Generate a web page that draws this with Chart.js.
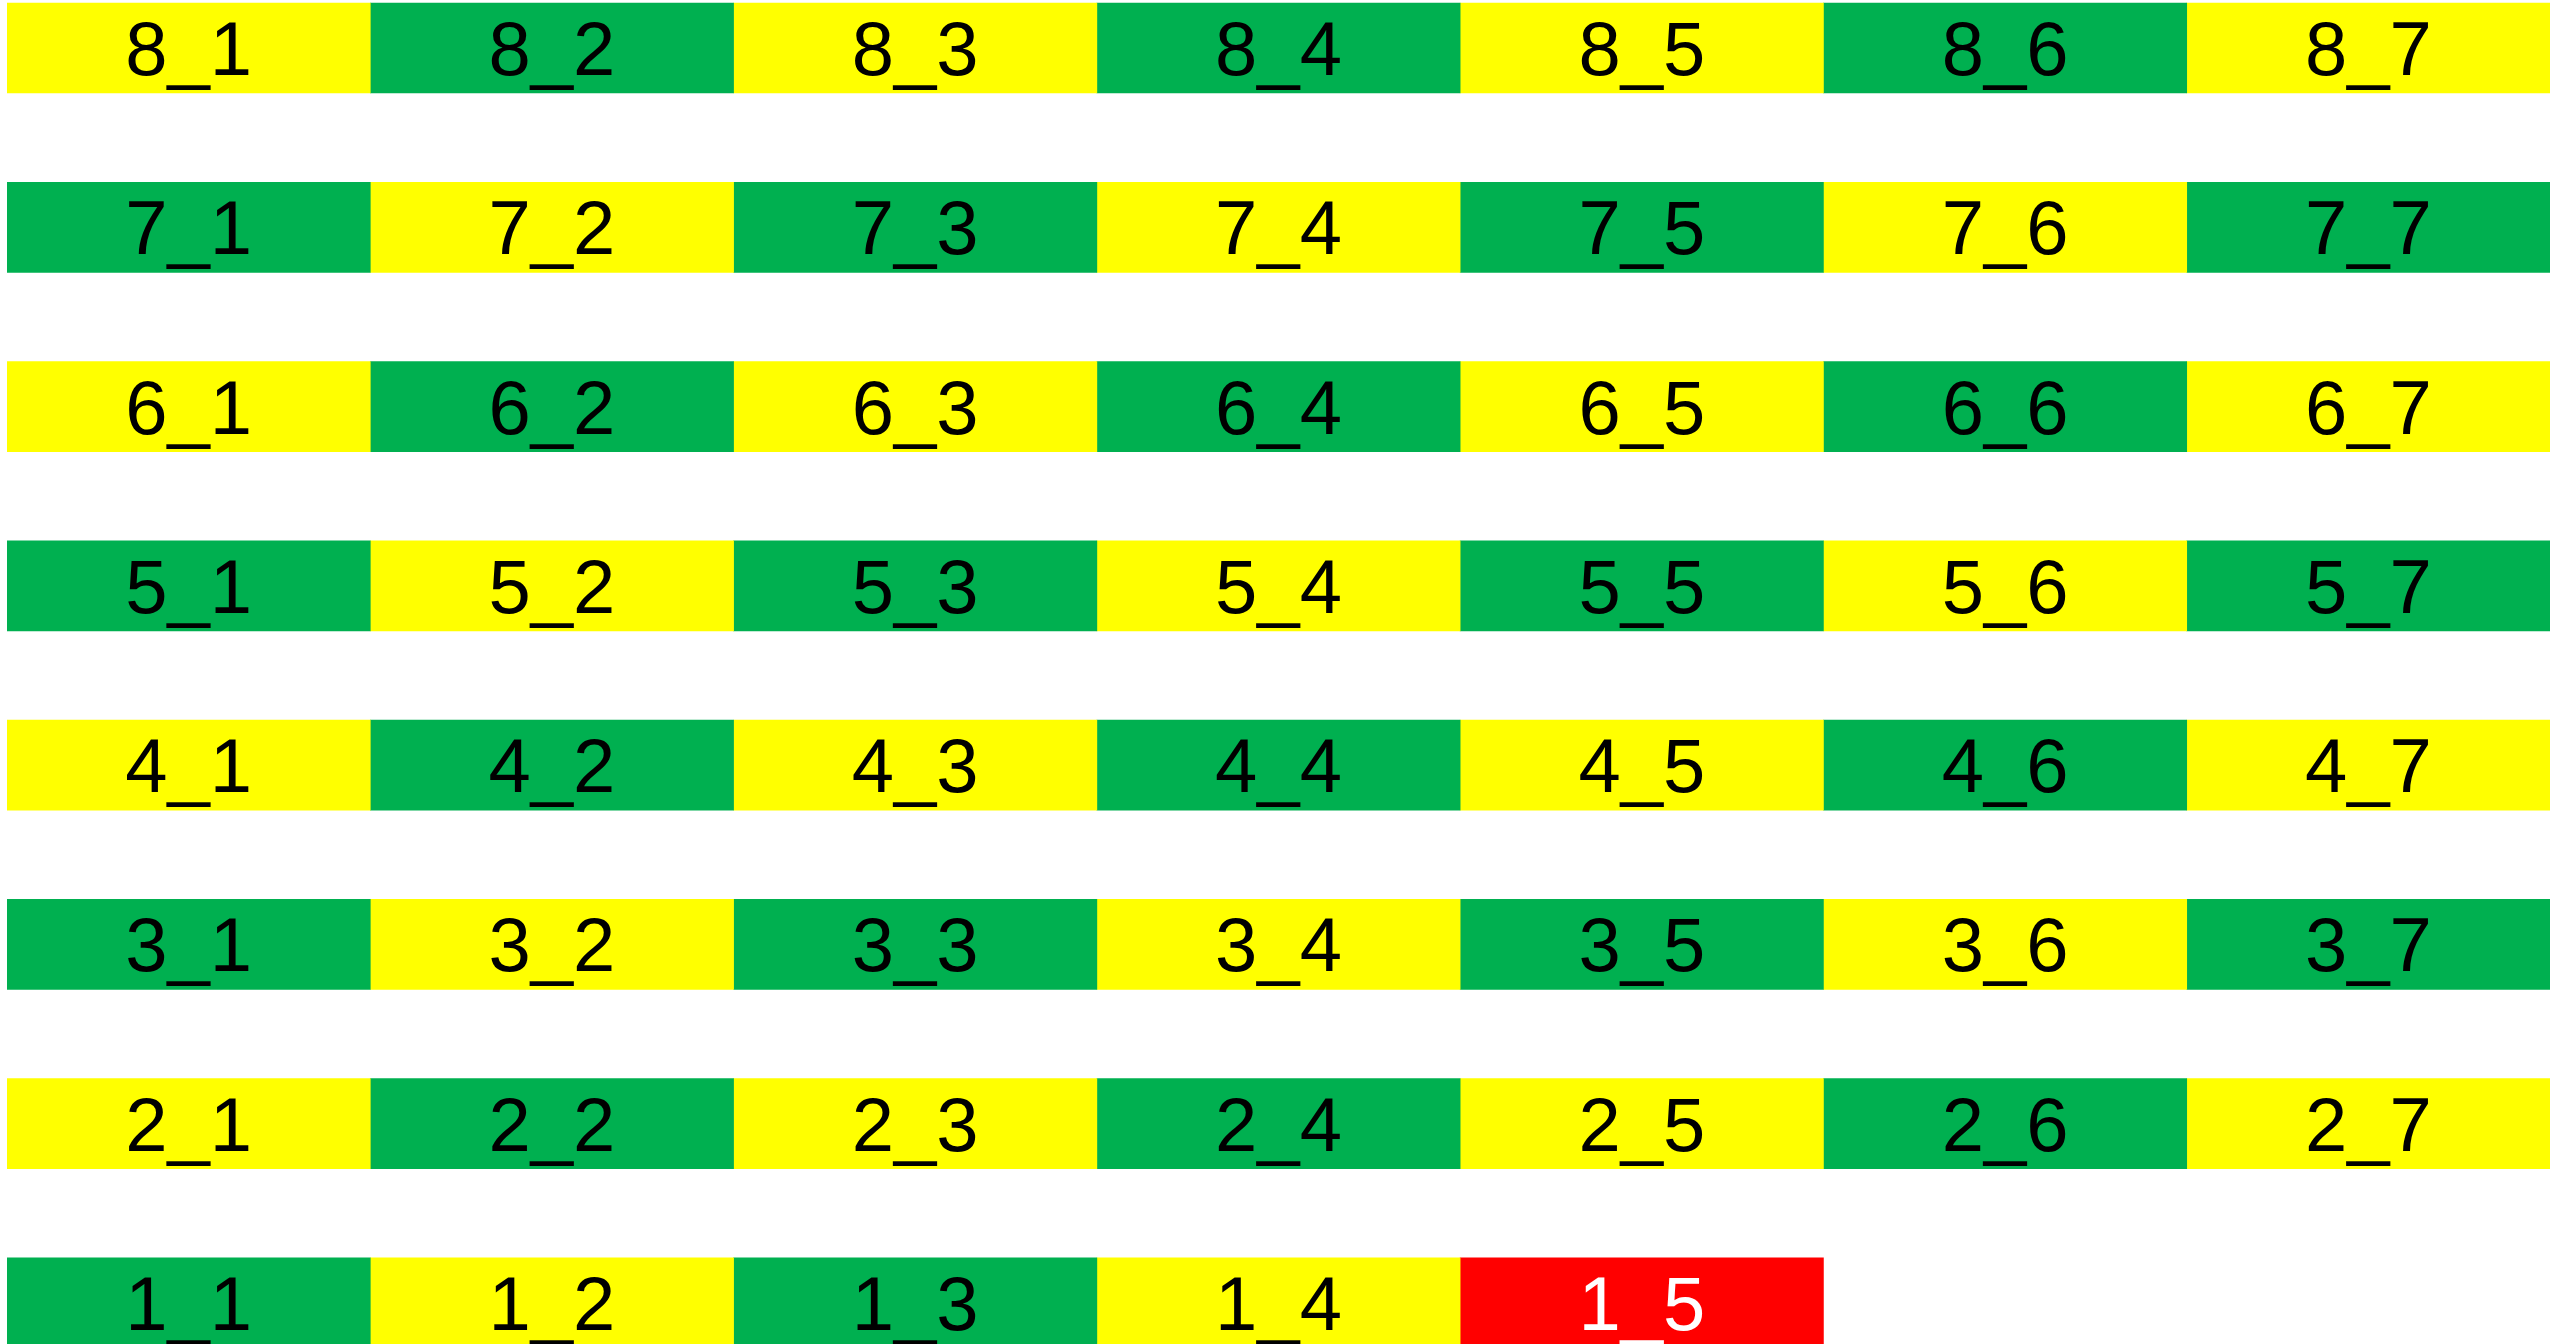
<!DOCTYPE html>
<html>
<head>
<meta charset="utf-8">
<script src="https://cdn.jsdelivr.net/npm/chart.js@4.4.0/dist/chart.umd.min.js"></script>
<style>
  html, body { margin: 0; padding: 0; background: #fff; overflow: hidden; }
  #wrap { width: 2561px; height: 1344px; }
</style>
</head>
<body>
<div id="wrap"><canvas id="gridChart"></canvas></div>
<script>
const rows = [8, 7, 6, 5, 4, 3, 2, 1];
const columns = [1, 2, 3, 4, 5, 6, 7];
// cell state per row, top row first. row 1 only has five cells
const cellStates = [
  ['Y', 'G', 'Y', 'G', 'Y', 'G', 'Y'],
  ['G', 'Y', 'G', 'Y', 'G', 'Y', 'G'],
  ['Y', 'G', 'Y', 'G', 'Y', 'G', 'Y'],
  ['G', 'Y', 'G', 'Y', 'G', 'Y', 'G'],
  ['Y', 'G', 'Y', 'G', 'Y', 'G', 'Y'],
  ['G', 'Y', 'G', 'Y', 'G', 'Y', 'G'],
  ['Y', 'G', 'Y', 'G', 'Y', 'G', 'Y'],
  ['G', 'Y', 'G', 'Y', 'R']
];
const cellWidth = 1; // each cell is one unit wide

const stateColors = { Y: '#FFFF00', G: '#00B050', R: '#FF0000' };
const stateText = { Y: '#000000', G: '#000000', R: '#FFFFFF' };

const datasets = columns.map((col, c) => {
  const data = [];
  const colors = [];
  rows.forEach((row, r) => {
    const state = cellStates[r][c];
    if (!state) return;
    data.push({ x: cellWidth, y: row, label: row + '_' + col, state: state });
    colors.push(stateColors[state]);
  });
  return {
    label: 'Column ' + col,
    data: data,
    backgroundColor: colors,
    borderWidth: 0,
    barThickness: 90
  };
});

// write "row_col" in the middle of every cell
const cellLabels = {
  id: 'cellLabels',
  afterDatasetsDraw(chart) {
    const ctx = chart.ctx;
    ctx.save();
    ctx.font = '76px "Liberation Sans", Arial, sans-serif';
    ctx.textAlign = 'center';
    ctx.textBaseline = 'alphabetic';
    chart.data.datasets.forEach((ds, i) => {
      chart.getDatasetMeta(i).data.forEach((bar, j) => {
        const cell = ds.data[j];
        const p = bar.getCenterPoint();
        ctx.fillStyle = stateText[cell.state];
        ctx.fillText(cell.label, p.x, p.y + 27);
      });
    });
    ctx.restore();
  }
};

new Chart('gridChart', {
  type: 'bar',
  data: { datasets: datasets },
  options: {
    indexAxis: 'y',
    responsive: true,
    maintainAspectRatio: false,
    animation: false,
    layout: { padding: { left: 7, right: 11, top: 0, bottom: 0 } },
    scales: {
      x: { type: 'linear', stacked: true, min: 0, max: 7, display: false },
      y: { type: 'linear', stacked: true, offset: false, min: 0.771, max: 8.268, display: false }
    },
    plugins: {
      legend: { display: false },
      tooltip: { enabled: false }
    }
  },
  plugins: [cellLabels]
});
</script>
</body>
</html>
